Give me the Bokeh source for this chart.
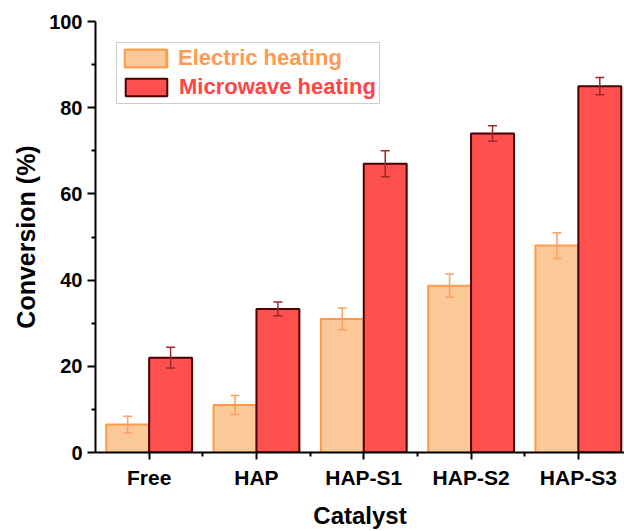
from bokeh.plotting import figure
from bokeh.models import (ColumnDataSource, Whisker, FixedTicker, Range1d,
                          Legend, LegendItem, TeeHead)
from bokeh.transform import dodge
from bokeh.embed import file_html
from bokeh.resources import INLINE

categories = ["Free", "HAP", "HAP-S1", "HAP-S2", "HAP-S3"]
electric = [6.5, 11.0, 31.0, 38.7, 48.0]
electric_err = [1.9, 2.2, 2.5, 2.7, 3.0]
microwave = [22.0, 33.3, 67.0, 74.0, 85.0]
microwave_err = [2.4, 1.6, 3.0, 1.8, 2.0]
y_ticks = [0, 20, 40, 60, 80, 100]

FONT = "Liberation Sans"
E_FILL, E_LINE, E_ERR = "#FBC898", "#FF9A4A", "#FFA060"
M_FILL, M_LINE, M_ERR = "#FF5050", "#4A0000", "#9A2A2A"

xs = list(range(1, len(categories) + 1))
src = ColumnDataSource(dict(
    x=xs,
    e=electric,
    e_up=[v + d for v, d in zip(electric, electric_err)],
    e_lo=[v - d for v, d in zip(electric, electric_err)],
    m=microwave,
    m_up=[v + d for v, d in zip(microwave, microwave_err)],
    m_lo=[v - d for v, d in zip(microwave, microwave_err)],
))

p = figure(width=624, height=531, output_backend="svg", toolbar_location=None,
           x_range=Range1d(0.5, 5.43), y_range=Range1d(y_ticks[0], y_ticks[-1]),
           min_border_left=95, min_border_top=21, min_border_bottom=78,
           min_border_right=0)
p.outline_line_color = None
p.xgrid.visible = False
p.ygrid.visible = False
p.background_fill_color = "white"

r_e = p.vbar(x=dodge("x", -0.2, range=p.x_range), top="e", width=0.4, bottom=0,
             source=src, fill_color=E_FILL, line_color=E_LINE, line_width=2)
r_m = p.vbar(x=dodge("x", 0.2, range=p.x_range), top="m", width=0.4, bottom=0,
             source=src, fill_color=M_FILL, line_color=M_LINE, line_width=2)

we = Whisker(source=src, base=dodge("x", -0.2, range=p.x_range), upper="e_up", lower="e_lo",
             line_color=E_ERR, line_width=1.5, level="overlay",
             upper_head=TeeHead(size=9, line_color=E_ERR, line_width=1.5),
             lower_head=TeeHead(size=9, line_color=E_ERR, line_width=1.5))
wm = Whisker(source=src, base=dodge("x", 0.2, range=p.x_range), upper="m_up", lower="m_lo",
             line_color=M_ERR, line_width=1.5, level="overlay",
             upper_head=TeeHead(size=9, line_color=M_ERR, line_width=1.5),
             lower_head=TeeHead(size=9, line_color=M_ERR, line_width=1.5))
p.add_layout(we)
p.add_layout(wm)

# axes
xa = p.xaxis[0]
xa.ticker = FixedTicker(ticks=xs, minor_ticks=[x + 0.5 for x in xs[:-1]])
xa.major_label_overrides = {x: c for x, c in zip(xs, categories)}
ya = p.yaxis[0]
ya.ticker = FixedTicker(ticks=y_ticks, minor_ticks=[t + 10 for t in y_ticks[:-1]])

for ax in (xa, ya):
    ax.axis_line_width = 2
    ax.axis_line_color = "black"
    ax.major_tick_line_width = 2
    ax.minor_tick_line_width = 2
    ax.major_tick_in = 0
    ax.minor_tick_in = 0
    ax.major_label_text_font = FONT
    ax.major_label_text_font_style = "bold"
    ax.major_label_text_color = "black"
    ax.axis_label_text_font = FONT
    ax.axis_label_text_font_style = "bold"
    ax.axis_label_text_color = "black"

ya.major_tick_out = 8
ya.minor_tick_out = 4
ya.major_label_text_font_size = "20px"
ya.major_label_standoff = 5
ya.axis_label = "Conversion (%)"
ya.axis_label_text_font_size = "25px"
ya.axis_label_standoff = 6

xa.major_tick_out = 7
xa.minor_tick_out = 4
xa.major_label_text_font_size = "21px"
xa.major_label_standoff = 6
xa.axis_label = "Catalyst"
xa.axis_label_text_font_size = "24px"
xa.axis_label_standoff = 10

def make_legend(items, color, boxed):
    lg = Legend(items=items, location="top_left", margin=21,
                glyph_width=52, glyph_height=22, label_height=24,
                spacing=4, padding=3, label_standoff=7,
                label_text_font=FONT, label_text_font_style="bold",
                label_text_font_size="22px", label_text_color=color)
    if boxed:
        lg.border_line_color = "#999999"
        lg.border_line_width = 1
        lg.background_fill_color = "white"
        lg.background_fill_alpha = 1
    else:
        lg.border_line_alpha = 0
        lg.background_fill_alpha = 0
    return lg

leg_m = make_legend([LegendItem(label=" ", renderers=[r_e]),
                     LegendItem(label="Microwave heating", renderers=[r_m])],
                    "#FF4545", True)
leg_e = make_legend([LegendItem(label="Electric heating", renderers=[r_e])],
                    "#FF9A50", False)
p.add_layout(leg_m)
p.add_layout(leg_e)

open("out.html", "w").write(file_html(p, INLINE))
